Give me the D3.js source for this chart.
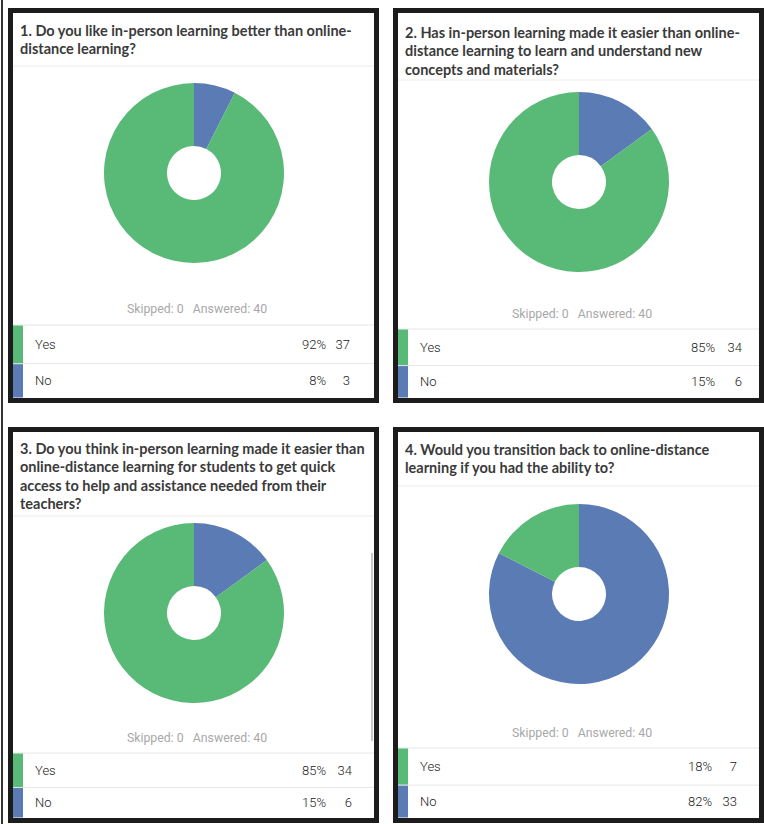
<!DOCTYPE html>
<html>
<head>
<meta charset="utf-8">
<script src="https://cdn.jsdelivr.net/npm/d3@7"></script>
<style>
  body { margin: 0; background: #fff; }
  svg { display: block; }
</style>
</head>
<body>
<div id="chart"></div>
<script>
// survey data
const questions = [
  ["1. Do you like in-person learning better than online-", "distance learning?"],
  ["2. Has in-person learning made it easier than online-", "distance learning to learn and understand new", "concepts and materials?"],
  ["3. Do you think in-person learning made it easier than", "online-distance learning for students to get quick", "access to help and assistance needed from their", "teachers?"],
  ["4. Would you transition back to online-distance", "learning if you had the ability to?"]
];
const answers = ["Yes", "No"];
const yesCounts = [37, 34, 34, 7];
const noCounts = [3, 6, 6, 33];
const yesPct = ["92%", "85%", "85%", "18%"];
const noPct = ["8%", "15%", "15%", "82%"];
const skipped = [0, 0, 0, 0];
const answered = [40, 40, 40, 40];

const W = 764, H = 824;
const green = "#58ba76", blue = "#5b7bb4";

// panel boxes, offsets relative to panel top-left
const layout = [
  { x: 8, y: 8, h: 395, title: 23, sep: 58, pie: 165, skip: 300, line: 317, pctR: 318, nR: 342 },
  { x: 393, y: 8, h: 395, title: 25, sep: 72, pie: 174, skip: 305, line: 321, pctR: 322, nR: 349 },
  { x: 8, y: 427, h: 396, title: 22, sep: 89, pie: 186, skip: 310, line: 326, pctR: 318, nR: 344 },
  { x: 393, y: 427, h: 396, title: 23, sep: 59, pie: 167, skip: 305, line: 321, pctR: 319, nR: 344 }
];
const panelW = 371, bw = 5;

const svg = d3.select("#chart").append("svg")
  .attr("width", W)
  .attr("height", H);

// thin frame line at far left
svg.append("rect").attr("x", 1).attr("y", 0).attr("width", 2).attr("height", H).attr("fill", "#333");

const color = d3.scaleOrdinal().domain(answers).range([green, blue]);
const pie = d3.pie().sort(null).value(d => d.v);
const arc = d3.arc().innerRadius(27).outerRadius(90);

layout.forEach((L, i) => {
  const g = svg.append("g").attr("transform", "translate(" + L.x + "," + L.y + ")");
  const innerL = bw, innerR = panelW - bw, innerB = L.h - bw;

  g.append("rect")
    .attr("x", bw / 2).attr("y", bw / 2)
    .attr("width", panelW - bw).attr("height", L.h - bw)
    .attr("fill", "#fff")
    .attr("stroke", "#1c1c1c")
    .attr("stroke-width", bw);

  // title
  const t = g.append("text")
    .attr("font-family", "Lato, sans-serif")
    .attr("font-weight", 700)
    .attr("font-size", 14.5)
    .attr("fill", "#3a3a3a");
  questions[i].forEach((line, k) => {
    t.append("tspan")
      .attr("x", 12)
      .attr("y", L.title + k * 18.3 + 5)
      .text(line);
  });

  g.append("line")
    .attr("x1", innerL).attr("x2", innerR)
    .attr("y1", L.sep).attr("y2", L.sep)
    .attr("stroke", "#ececec");

  // donut: No first clockwise from top, then Yes
  const slices = [
    { k: "No", v: noCounts[i] },
    { k: "Yes", v: yesCounts[i] }
  ];
  g.append("g")
    .attr("transform", "translate(186," + L.pie + ")")
    .selectAll("path")
    .data(pie(slices))
    .join("path")
    .attr("d", arc)
    .attr("fill", d => color(d.data.k));

  g.append("text")
    .attr("x", 189)
    .attr("y", L.skip + 4.5)
    .attr("text-anchor", "middle")
    .attr("font-family", "Roboto, sans-serif")
    .attr("font-size", 12.3)
    .attr("fill", "#a8a8a8")
    .attr("xml:space", "preserve")
    .text("Skipped: " + skipped[i] + "   Answered: " + answered[i]);

  // legend table
  const rowTop = L.line, mid = rowTop + (innerB - rowTop) * 0.53;
  const rows = [
    { k: "Yes", y0: rowTop, y1: mid, pct: yesPct[i], n: yesCounts[i] },
    { k: "No", y0: mid, y1: innerB, pct: noPct[i], n: noCounts[i] }
  ];
  g.append("line")
    .attr("x1", innerL).attr("x2", innerR)
    .attr("y1", rowTop).attr("y2", rowTop)
    .attr("stroke", "#e6e6e6");
  g.append("line")
    .attr("x1", innerL).attr("x2", innerR)
    .attr("y1", mid).attr("y2", mid)
    .attr("stroke", "#e6e6e6");

  const row = g.selectAll("g.row").data(rows).join("g").attr("class", "row");
  row.append("rect")
    .attr("x", innerL).attr("y", d => d.y0 + 0.5)
    .attr("width", 10).attr("height", d => d.y1 - d.y0 - 1)
    .attr("fill", d => color(d.k));
  const txt = (sel, x, anchor, f) => sel.append("text")
    .attr("x", x)
    .attr("y", d => (d.y0 + d.y1) / 2 + 4.6)
    .attr("text-anchor", anchor)
    .attr("font-family", "Roboto, sans-serif")
    .attr("font-weight", 300)
    .attr("font-size", 13)
    .attr("fill", "#222")
    .text(f);
  txt(row, innerL + 22, "start", d => d.k);
  txt(row, L.pctR, "end", d => d.pct);
  txt(row, L.nR, "end", d => d.n);
});

// scrollbar remnant in panel 3
svg.append("rect").attr("x", 371).attr("y", 553).attr("width", 2).attr("height", 188).attr("fill", "#c8c8c8");
</script>
</body>
</html>
